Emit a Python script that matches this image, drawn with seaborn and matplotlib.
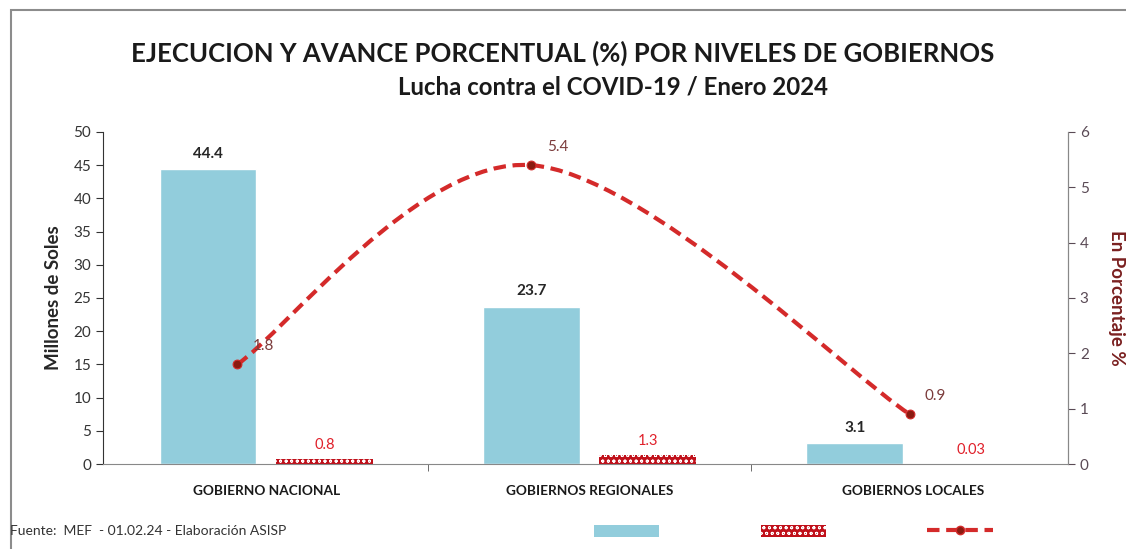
import numpy as np
import pandas as pd
import matplotlib
matplotlib.use("Agg")
import matplotlib.pyplot as plt
from matplotlib.path import Path
from matplotlib.patches import PathPatch, Patch, Rectangle
from matplotlib.lines import Line2D
import seaborn as sns

# data
niveles = ["GOBIERNO NACIONAL", "GOBIERNOS REGIONALES", "GOBIERNOS LOCALES"]
ejecucion = [44.4, 23.7, 3.1]        # millones de soles (eje izq.)
avance_barra = [0.8, 1.3, 0.03]      # barra roja (eje izq.)
avance_pct = [1.8, 5.4, 0.9]         # linea (eje der., %)
avance_labels = ["0.8", "1.3", "0.03"]

# style
azul = "#92CDDC"
rojo = "#C0101A"
linea = "#D42A2A"
marcador = "#8B1A10"
lbl_linea = "#7B3B3B"
line_shift = [-0.09, -0.18, -0.01]   # posicion de los puntos de la linea (eje secundario)

sns.set_style("white")
plt.rcParams["font.family"] = ["Lato", "DejaVu Sans"]
plt.rcParams["hatch.color"] = "white"
plt.rcParams["hatch.linewidth"] = 0.6

df = pd.DataFrame({
    "nivel": niveles * 2,
    "valor": ejecucion + avance_barra,
    "serie": ["ejec"] * 3 + ["avance"] * 3,
})

fig = plt.figure(figsize=(11.26, 5.49), dpi=100)
ax = fig.add_axes([0.0915, 0.1548, 0.857, 0.6048])

sns.barplot(data=df, x="nivel", y="valor", hue="serie", order=niveles,
            hue_order=["ejec", "avance"], palette=[azul, rojo],
            width=0.72, gap=0.17, legend=False, ax=ax, saturation=1)

bars_b = ax.patches[:3]
bars_r = ax.patches[3:6]
for b in bars_r:
    b.set_hatch("ooo")
    b.set_edgecolor("#FFFFFF")
    b.set_linewidth(0)

for b, v in zip(bars_b, ejecucion):
    ax.annotate(f"{v}", (b.get_x() + b.get_width() / 2, v), xytext=(0, 6),
                textcoords="offset points", ha="center", va="bottom",
                fontsize=11, fontweight="bold", color="#262626")
for b, v, t in zip(bars_r, avance_barra, avance_labels):
    ax.annotate(t, (b.get_x() + b.get_width() / 2, v), xytext=(0, 5),
                textcoords="offset points", ha="center", va="bottom",
                fontsize=10.5, color="#E0202A")

ax.set_xlim(-0.505, 2.48)
ax.set_ylim(0, 50)
ax.set_yticks(range(0, 51, 5))
ax.set_xlabel("")
ax.set_ylabel("Millones de Soles", fontsize=13.5, fontweight="bold", labelpad=8)
ax.tick_params(axis="y", direction="out", length=5, labelsize=11,
               colors="#333333", left=True)
ax.tick_params(axis="x", length=0, labelsize=9.8, pad=15)
for lab in ax.get_xticklabels():
    lab.set_fontweight("bold")
    lab.set_color("#1a1a1a")
ax.set_xticks([0.5, 1.5], minor=True)
ax.tick_params(axis="x", which="minor", length=5, direction="out",
               color="#555555", bottom=True)
ax.spines["top"].set_visible(False)
ax.spines["left"].set_color("#333333")
ax.spines["bottom"].set_color("#888888")
ax.spines["right"].set_color("#888888")

# eje secundario con linea suavizada
ax2 = ax.twinx()
ax2.set_ylim(0, 6)
ax2.set_yticks(range(0, 7))
xs = np.arange(len(avance_pct)) + np.array(line_shift)
ys = np.array(avance_pct, dtype=float)
pts = np.column_stack([xs, ys])
ext = np.vstack([pts[0], pts, pts[-1]])
verts = [tuple(pts[0])]
codes = [Path.MOVETO]
for i in range(1, len(ext) - 2):
    p0, p1, p2, p3 = ext[i - 1], ext[i], ext[i + 1], ext[i + 2]
    c1 = p1 + (p2 - p0) / 6
    c2 = p2 - (p3 - p1) / 6
    verts += [tuple(c1), tuple(c2), tuple(p2)]
    codes += [Path.CURVE4] * 3
ax2.add_patch(PathPatch(Path(verts, codes), fill=False, edgecolor=linea,
                        lw=3, linestyle=(0, (3, 1.6))))
sns.scatterplot(x=xs, y=ys, ax=ax2, color=marcador, s=40, edgecolor=linea,
                linewidth=0.8, zorder=5)
for x, y in zip(xs, ys):
    ax2.annotate(f"{y}", (x, y), xytext=(11, 8), textcoords="offset points",
                 ha="left", va="bottom", fontsize=11, color=lbl_linea)
ax2.tick_params(axis="y", direction="out", length=5, labelsize=11,
                colors="#5a4a55", right=True)
ax2.set_ylabel("En Porcentaje %", fontsize=13.5, fontweight="bold",
               color="#7A2020", rotation=270, labelpad=26)
for s in ["top", "left", "bottom"]:
    ax2.spines[s].set_visible(False)
ax2.spines["right"].set_color("#888888")

fig.text(0.5, 0.903, "EJECUCION Y AVANCE PORCENTUAL (%) POR NIVELES DE GOBIERNOS",
         ha="center", va="center", fontsize=18.5, fontweight="bold", color="#1a1a1a")
fig.text(0.544, 0.841, "Lucha contra el COVID-19 / Enero 2024",
         ha="center", va="center", fontsize=17.3, fontweight="bold", color="#1a1a1a")
fig.text(0.009, 0.022, "Fuente:  MEF  - 01.02.24 - Elaboración ASISP",
         ha="left", va="bottom", fontsize=10, color="#333333")

handles = [Patch(facecolor=azul, edgecolor="none"),
           Patch(facecolor=rojo, edgecolor="white", hatch="ooo", lw=0),
           Line2D([], [], color=linea, lw=3, linestyle=(0, (3, 1.6)),
                  marker="o", markersize=6, markerfacecolor=marcador,
                  markeredgecolor=linea)]
fig.legend(handles, ["", "", ""], ncol=3, loc="center",
           bbox_to_anchor=(0.7045, 0.032), frameon=False, handlelength=4.7,
           handleheight=0.9, handletextpad=0, columnspacing=7.3, fontsize=10)

fig.patches.append(Rectangle((11 / 1126, -0.1), 1.2, 1 - 10 / 549 + 0.1,
                             transform=fig.transFigure, fill=False,
                             edgecolor="#8c8c8c", lw=1.5, zorder=0))

fig.savefig("out.png", dpi=100)
